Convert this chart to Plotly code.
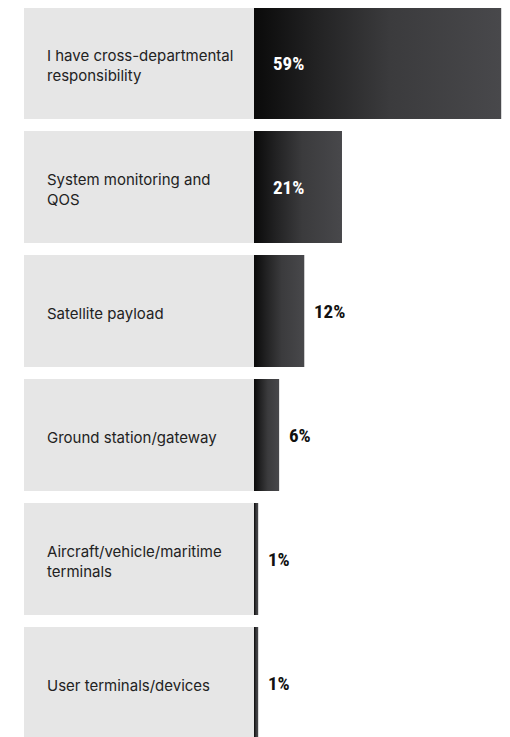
import plotly.graph_objects as go

categories = [
    "I have cross-departmental<br>responsibility",
    "System monitoring and<br>QOS",
    "Satellite payload",
    "Ground station/gateway",
    "Aircraft/vehicle/maritime<br>terminals",
    "User terminals/devices",
]
values = [59, 21, 12, 6, 1, 1]
value_labels = ["59%", "21%", "12%", "6%", "1%", "1%"]

PX_PER_UNIT = 4.19
OFF = 8
ZERO_PX = 254 - OFF
W, H = 510 - OFF, 737 - OFF
ROW_PITCH = 124
ROW_H = 112
FIRST_CENTER = 63 - OFF

xmin = -ZERO_PX / PX_PER_UNIT
xmax = (W - ZERO_PX) / PX_PER_UNIT
box_left = xmin + (24 - OFF) / PX_PER_UNIT
bw = ROW_H / ROW_PITCH
ytop = -FIRST_CENTER / ROW_PITCH
ybot = (H - FIRST_CENTER) / ROW_PITCH

fig = go.Figure()

fig.add_trace(go.Bar(
    y=list(range(len(categories))), x=[-box_left] * len(categories), base=box_left,
    orientation="h", width=bw, marker=dict(color="#e6e6e6", line=dict(width=0)),
    hoverinfo="skip", showlegend=False,
))

grad = [[0, "#0a0a0a"], [0.25, "#222223"], [0.55, "#3b3b3d"], [1, "#48484b"]]
for i, v in enumerate(values):
    y0, y1 = i - bw / 2, i + bw / 2
    fig.add_trace(go.Scatter(
        x=[0, v, v, 0, 0], y=[y0, y0, y1, y1, y0], mode="lines",
        line=dict(width=0, color="#333"), fill="toself",
        fillgradient=dict(type="horizontal", colorscale=grad),
        hoverinfo="skip", showlegend=False,
    ))

annotations = []
for i, (c, v, lab) in enumerate(zip(categories, values, value_labels)):
    annotations.append(dict(
        x=box_left, y=i, xref="x", yref="y", text=c, showarrow=False,
        xanchor="left", yanchor="middle", align="left", xshift=21, yshift=-2,
        font=dict(family="Inter, Noto Sans, sans-serif", size=15, color="#222222"),
    ))
    inside = v >= 15
    annotations.append(dict(
        x=0 if inside else v, y=i, xref="x", yref="y", text="<b>" + lab + "</b>",
        showarrow=False, xanchor="left", yanchor="middle",
        xshift=17 if inside else 8,
        font=dict(family="Roboto Condensed, DejaVu Sans Condensed, sans-serif",
                  size=19, color="#ffffff" if inside else "#111111"),
    ))

fig.update_layout(
    width=W, height=H, margin=dict(l=0, r=0, t=0, b=0),
    plot_bgcolor="white", paper_bgcolor="white",
    xaxis=dict(range=[xmin, xmax], visible=False, fixedrange=True),
    yaxis=dict(range=[ybot, ytop], visible=False, fixedrange=True),
    annotations=annotations, bargap=0,
)

fig.write_html("out.html")
